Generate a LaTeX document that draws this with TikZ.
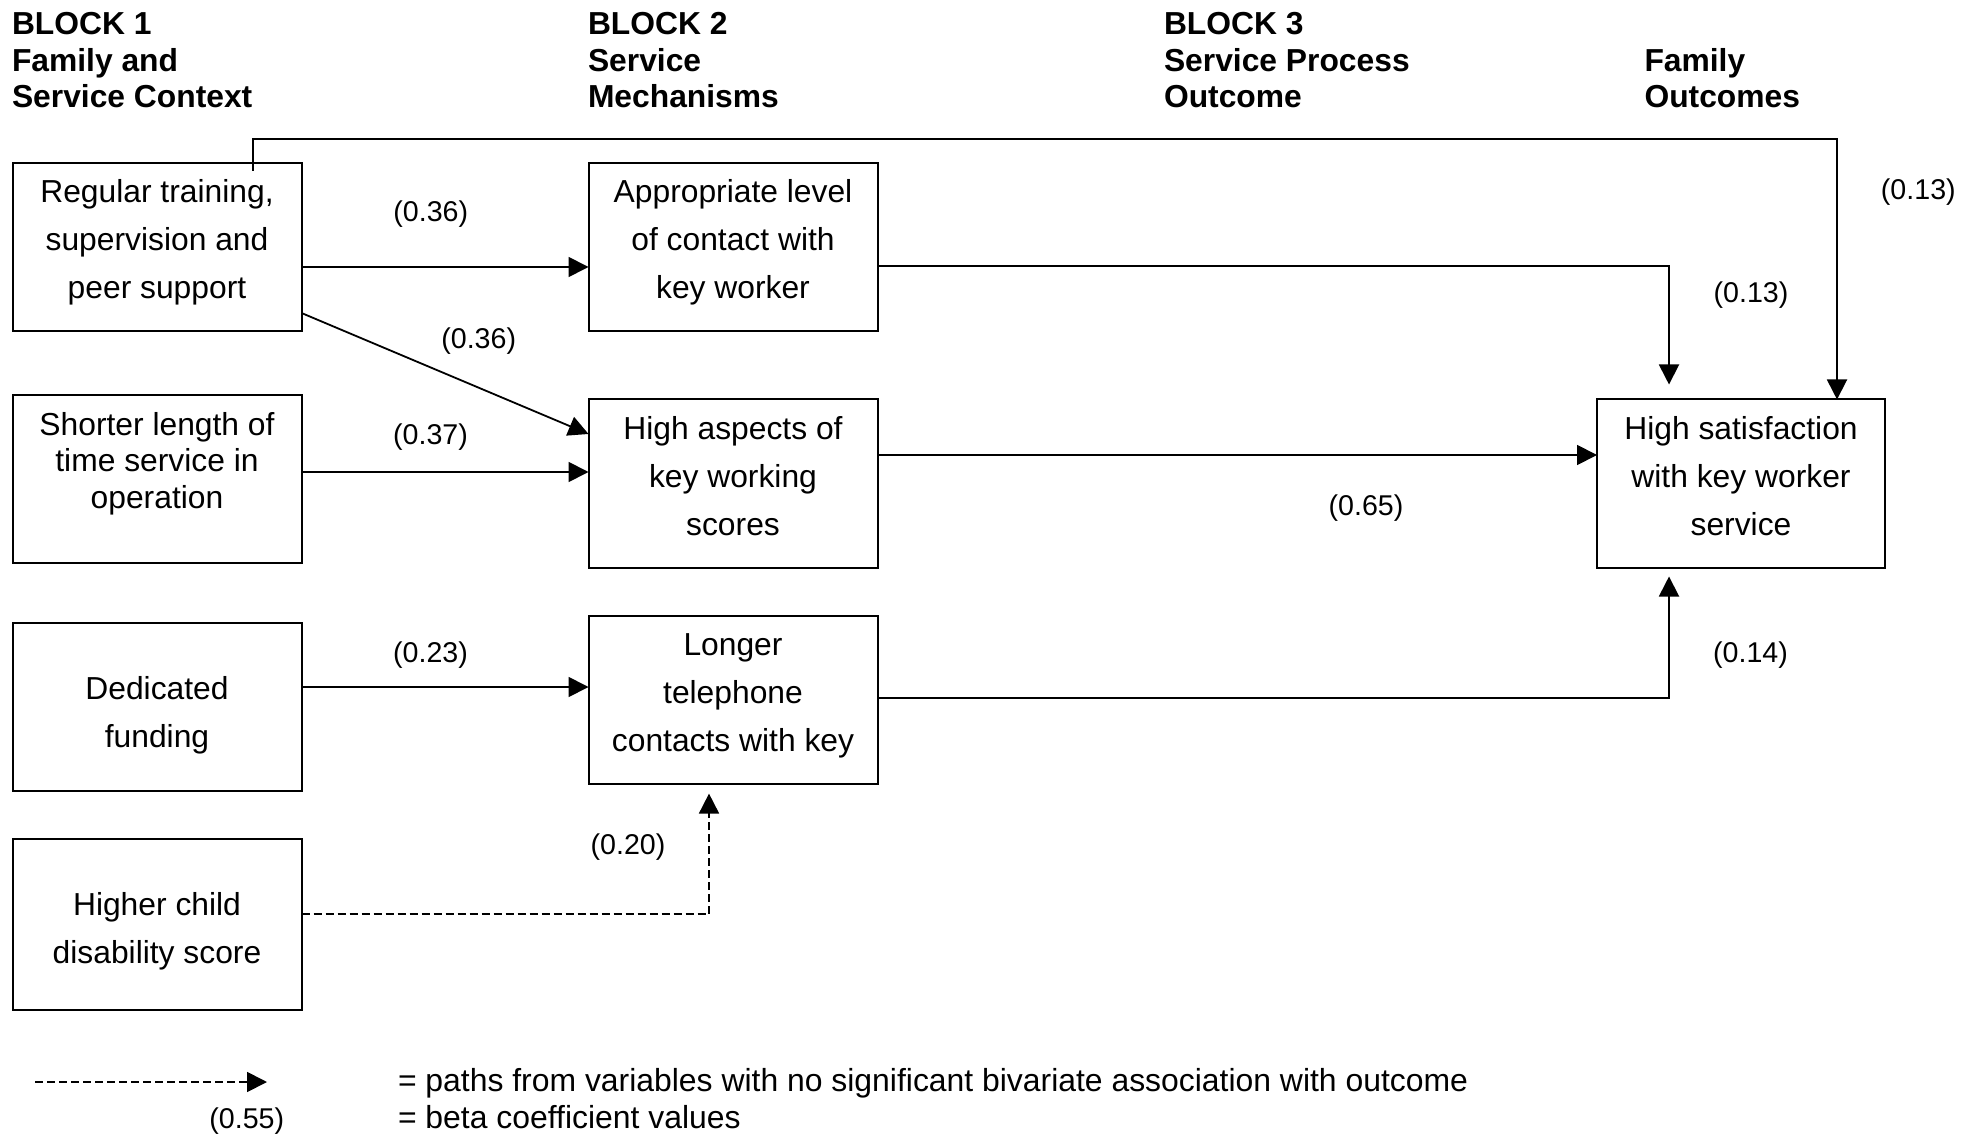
\documentclass[tikz,border=0pt]{standalone}
\usepackage{fontspec}
\setmainfont{Liberation Sans}
\usetikzlibrary{arrows.meta,calc}
% invisible strut fixing the height of a node's first line at 1em
\newcommand\firstline{\rule{0pt}{1em}}
\begin{document}
\begin{tikzpicture}[x=0.5pt,y=-0.5pt,
  every node/.style={inner sep=0pt,outer sep=0pt},
  stage/.style={draw,line width=1pt,minimum width=144.5pt,minimum height=84pt},
  body/.style={anchor=north,align=center,font=\fontsize{15.9}{24}\selectfont},
  tightbody/.style={anchor=north,align=center,font=\fontsize{15.9}{18.35}\selectfont},
  head/.style={anchor=north west,align=left,font=\fontsize{15.9}{18.1}\selectfont\bfseries},
  coef/.style={font=\fontsize{14.3}{17}\selectfont},
  note/.style={anchor=base west,font=\fontsize{15.95}{19}\selectfont},
  link/.style={line width=0.9pt,-{Triangle[length=10pt,width=10pt]}},
  weak/.style={link,dash pattern=on 4pt off 2pt},
]
\useasboundingbox (0,0) rectangle (1984,1138);

% column headings
\node[head] (h1) at (12,3.2)     {\firstline BLOCK 1\\Family and\\Service Context};
\node[head] (h2) at (588,3.2)    {\firstline BLOCK 2\\Service\\Mechanisms};
\node[head] (h3) at (1164,3.2)   {\firstline BLOCK 3\\Service Process\\Outcome};
\node[head] (h4) at (1644.5,39.4){\firstline Family\\Outcomes};

% boxes
\node[stage] (A) at (157,247)   {};
\node[stage] (D) at (157,479)   {};
\node[stage] (F) at (157,707)   {};
\node[stage,minimum height=85.5pt] (H) at (157,924.5) {};
\node[stage] (B) at (733,247)   {};
\node[stage] (C) at (733,483.5) {};
\node[stage] (E) at (733,699.6) {};
\node[stage,minimum width=144pt] (S) at (1741,483.5) {};

% box texts
\node[body] (At) at ($(A.north)+(0,8.2)$)  {\firstline Regular training,\\supervision and\\peer support};
\node[tightbody] (Dt) at ($(D.north)+(0,8.2)$) {\firstline Shorter length of\\time service in\\operation};
\node[body] (Ft) at ($(F.north)+(0,44.2)$) {\firstline Dedicated\\funding};
\node[body] (Ht) at ($(H.north)+(0,44.2)$) {\firstline Higher child\\disability score};
\node[body] (Bt) at ($(B.north)+(0,8.2)$)  {\firstline Appropriate level\\of contact with\\key worker};
\node[body] (Ct) at ($(C.north)+(0,8.2)$)  {\firstline High aspects of\\key working\\scores};
\node[body] (Et) at ($(E.north)+(0,8.2)$)  {\firstline Longer\\telephone\\contacts with key};
\node[body] (St) at ($(S.north)+(0,8.2)$)  {\firstline High satisfaction\\with key worker\\service};

% paths
\draw[link] (A.east |- 0,267) -- (B.west |- 0,267);
\draw[link] (A.east |- 0,313) -- (C.west |- 0,434);
\draw[link] (D.east |- 0,472) -- (C.west |- 0,472);
\draw[link] (F.east |- 0,687) -- (E.west |- 0,687);
\draw[weak] (H.east |- 0,914) -| ($(E.south)+(-24,10)$);
\draw[link] (B.east |- 0,266) -| ($(S.north)+(-72,-15)$);
\draw[link] (C.east |- 0,455) -- (S.west |- 0,455);
\draw[link] (E.east |- 0,698) -| ($(S.south)+(-72,9)$);
\coordinate (ridge) at (1837,139);
\draw[link] ($(A.north)+(96,8)$) |- (ridge) -- (S.north -| ridge);

% beta coefficients
\node[coef] (c1)  at (430.8,214.5) {(0.36)};
\node[coef] (c2)  at (478.7,340.8) {(0.36)};
\node[coef] (c3)  at (430.5,437.5) {(0.37)};
\node[coef] (c4)  at (430.5,654.7) {(0.23)};
\node[coef] (c5)  at (628,847.4)   {(0.20)};
\node[coef] (c6)  at (1918.3,191.9){(0.13)};
\node[coef] (c7)  at (1751,295)    {(0.13)};
\node[coef] (c8)  at (1366,508)    {(0.65)};
\node[coef] (c9)  at (1750.5,655)  {(0.14)};

% key
\coordinate (k0) at (35,1082);
\coordinate (k1) at (267,1082);
\draw[weak] (k0) -- (k1);
\node[coef] (c10) at (246.8,1121) {(0.55)};
\node[note] (n1) at (398,1091) {= paths from variables with no significant bivariate association with outcome};
\node[note] (n2) at (398,1128) {= beta coefficient values};
\end{tikzpicture}
\end{document}
